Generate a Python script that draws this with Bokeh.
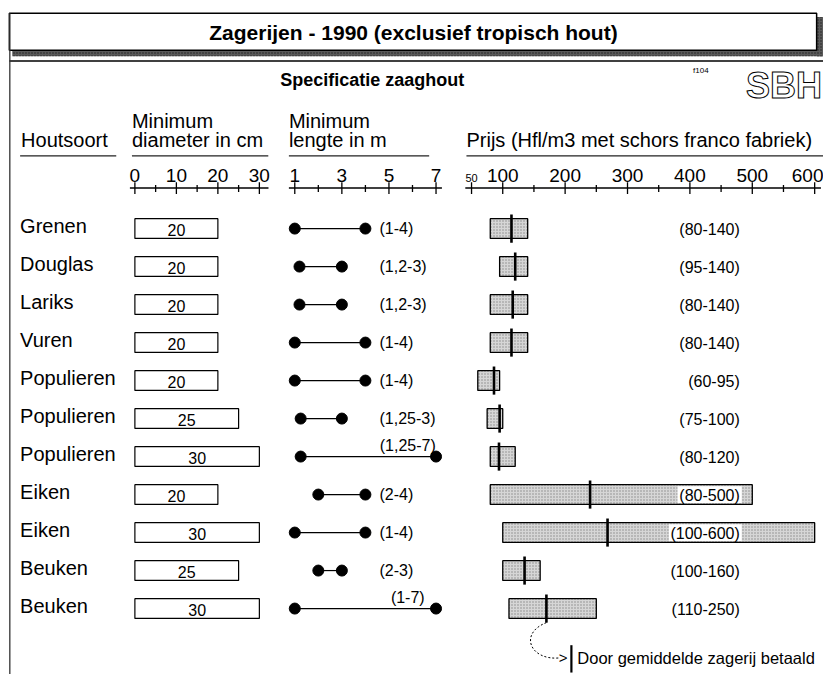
from bokeh.plotting import figure
from bokeh.models import Range1d
from bokeh.core.properties import value
from bokeh.embed import file_html
from bokeh.resources import INLINE

# ---------------- data ----------------
species = ["Grenen", "Douglas", "Lariks", "Vuren", "Populieren", "Populieren",
           "Populieren", "Eiken", "Eiken", "Beuken", "Beuken"]
diam_cm = [20, 20, 20, 20, 20, 25, 30, 20, 30, 25, 30]
len_min = [1, 1.2, 1.2, 1, 1, 1.25, 1.25, 2, 1, 2, 1]
len_max = [4, 3, 3, 4, 4, 3, 7, 4, 4, 3, 7]
len_labels = ["(1-4)", "(1,2-3)", "(1,2-3)", "(1-4)", "(1-4)", "(1,25-3)",
              "(1,25-7)", "(2-4)", "(1-4)", "(2-3)", "(1-7)"]
price_min = [80, 95, 80, 80, 60, 75, 80, 80, 100, 100, 110]
price_max = [140, 140, 140, 140, 95, 100, 120, 500, 600, 160, 250]
price_mean = [114, 120, 116, 114, 86, 95, 94, 240, 268, 135, 170]
price_labels = ["(80-140)", "(95-140)", "(80-140)", "(80-140)", "(60-95)",
                "(75-100)", "(80-120)", "(80-500)", "(100-600)", "(100-160)",
                "(110-250)"]

diam_ticks = [0, 10, 20, 30]
diam_minor = [5, 15, 25]
len_ticks = [1, 3, 5, 7]
len_minor = [2, 4, 6]
price_ticks = [100, 200, 300, 400, 500, 600]
price_minor = [150, 250, 350, 450, 550]
price_first = [50]

FONT = "Liberation Sans"
n = len(species)
rows = list(range(n))

# ---------------- figure (coordinates of the original sheet) ----------------
W, H = 823, 674
X0, X1 = 0, 839
Y0, Y1 = 0, 690

# pixel scales of the original panels
D0, DS = 137.0, 4.23      # diameter: 0 cm at x=137, 4.23 px per cm
L1, LS = 300.0, 24.0      # length: 1 m at x=300, 24 px per m
P100, PS = 512.0, 0.636   # price: 100 at x=512, 0.636 px per Hfl
R0, RS = 233.5, 38.9      # row 0 at y=233.5, 38.9 px per row

p = figure(width=W, height=H, x_range=Range1d(X0, X1), y_range=Range1d(Y1, Y0),
           output_backend="svg", toolbar_location=None, min_border=0,
           x_axis_type=None, y_axis_type=None)
p.grid.visible = False
p.outline_line_color = None
p.background_fill_color = "white"
p.border_fill_color = "white"

p.extra_x_ranges = {
    "diam": Range1d((X0 - D0) / DS, (X1 - D0) / DS),
    "len": Range1d(1 + (X0 - L1) / LS, 1 + (X1 - L1) / LS),
    "price": Range1d(100 + (X0 - P100) / PS, 100 + (X1 - P100) / PS),
}
p.extra_y_ranges = {"row": Range1d((Y1 - R0) / RS, (Y0 - R0) / RS)}

def txt(x, y, t, size, bold=False, align="left", base="middle", **kw):
    p.text(x=x, y=y, text=t, text_font=value(FONT), text_font_size=f"{size}px",
           text_font_style="bold" if bold else "normal", text_align=align,
           text_baseline=base, text_color="black", **kw)

# ---------------- frame / title ----------------
p.quad(left=[12], right=[839], top=[51], bottom=[57], fill_color="#5a5a5a",
       line_color=None, hatch_pattern="dot", hatch_color="#222222", hatch_scale=3)
p.quad(left=[832], right=[839], top=[17], bottom=[57], fill_color="#5a5a5a",
       line_color=None, hatch_pattern="dot", hatch_color="#222222", hatch_scale=3)
p.quad(left=[9], right=[832], top=[13], bottom=[51], fill_color="white",
       line_color="black", line_width=1.5)
txt([421], [33], ["Zagerijen - 1990 (exclusief tropisch hout)"], 21, bold=True,
    align="center")
p.segment(x0=[9], y0=[62], x1=[839], y1=[62], line_color="black", line_width=1.5)
p.segment(x0=[9.5], y0=[13], x1=[9.5], y1=[690], line_color="#333333", line_width=1.3)

txt([379], [81], ["Specificatie zaaghout"], 18, bold=True, align="center")
txt([706], [72], ["f104"], 8)
p.text(x=[760], y=[87], text=["SBH"], text_font=value(FONT),
       text_font_size="36px", text_font_style="bold", text_align="left",
       text_baseline="middle", text_color="white", text_outline_color="black")

# ---------------- column headers ----------------
txt([21], [143], ["Houtsoort"], 20)
txt([134], [123], ["Minimum"], 20)
txt([134], [143], ["diameter in cm"], 20)
txt([294], [123], ["Minimum"], 20)
txt([294], [143], ["lengte in m"], 20)
txt([475], [143], ["Prijs (Hfl/m3 met schors franco fabriek)"], 20)
p.segment(x0=[20, 134, 294, 475], y0=[159] * 4, x1=[118, 273, 437, 839],
          y1=[159] * 4, line_color="#222222", line_width=1.3)

# ---------------- scales ----------------
AX_Y = 192
def draw_axis(rname, lo, hi, major, minor):
    p.segment(x0=[lo], y0=[AX_Y], x1=[hi], y1=[AX_Y], x_range_name=rname,
              line_color="black", line_width=1.6)
    p.segment(x0=major, y0=[AX_Y - 6] * len(major), x1=major,
              y1=[AX_Y + 6] * len(major), x_range_name=rname,
              line_color="black", line_width=1.3)
    p.segment(x0=minor, y0=[AX_Y - 3] * len(minor), x1=minor,
              y1=[AX_Y + 4] * len(minor), x_range_name=rname,
              line_color="black", line_width=1.3)

def tick_labels(rname, vals, size, y, align="center"):
    p.text(x=vals, y=[y] * len(vals), text=[str(v) for v in vals],
           x_range_name=rname, text_font=value(FONT), text_font_size=f"{size}px",
           text_align=align, text_baseline="middle")

draw_axis("diam", -1.2, 32.2, diam_ticks, diam_minor)
tick_labels("diam", diam_ticks, 19, 179)
draw_axis("len", 0.75, 7.25, len_ticks, len_minor)
tick_labels("len", len_ticks, 19, 179)
draw_axis("price", 40, 610, price_first + price_ticks, price_minor)
tick_labels("price", price_ticks[:-1], 19, 179)
# last label sits against the right edge of the sheet
p.text(x=[price_ticks[-1] + 9 / PS], y=[179], text=[str(price_ticks[-1])],
       x_range_name="price", text_font=value(FONT), text_font_size="19px",
       text_align="right", text_baseline="middle")
tick_labels("price", price_first, 11, 182)

# ---------------- rows ----------------
txt([20] * n, [r - 0.07 for r in rows], species, 20, y_range_name="row")

# diameter boxes
p.quad(left=[0] * n, right=diam_cm, top=[r - 0.26 for r in rows],
       bottom=[r + 0.26 for r in rows], x_range_name="diam", y_range_name="row",
       fill_color="white", line_color="black", line_width=1.2)
p.text(x=[d / 2 for d in diam_cm], y=[r + 0.03 for r in rows],
       text=[str(d) for d in diam_cm], x_range_name="diam", y_range_name="row",
       text_font=value(FONT), text_font_size="16px", text_align="center",
       text_baseline="middle")

# length ranges
p.segment(x0=len_min, y0=rows, x1=len_max, y1=rows, x_range_name="len",
          y_range_name="row", line_color="black", line_width=1.2)
p.scatter(x=len_min + len_max, y=rows + rows, size=11, color="black",
          x_range_name="len", y_range_name="row")
side = [i for i in rows if len_max[i] < 7]
over = [i for i in rows if len_max[i] >= 7]
p.text(x=[4.6] * len(side), y=[rows[i] for i in side],
       text=[len_labels[i] for i in side], x_range_name="len", y_range_name="row",
       text_font=value(FONT), text_font_size="16px", text_align="left",
       text_baseline="middle")
p.text(x=[5.8] * len(over), y=[rows[i] - 0.3 for i in over],
       text=[len_labels[i] for i in over], x_range_name="len", y_range_name="row",
       text_font=value(FONT), text_font_size="16px", text_align="center",
       text_baseline="middle")

# price ranges
p.quad(left=price_min, right=price_max, top=[r - 0.26 for r in rows],
       bottom=[r + 0.26 for r in rows], x_range_name="price", y_range_name="row",
       fill_color="#d6d6d6", line_color="black", line_width=1.3,
       hatch_pattern="dot", hatch_color="#8a8a8a", hatch_scale=3, hatch_weight=1)

LAB_X = 480  # right edge of price labels (price units)
cw = {"(": 0.333, ")": 0.333, "-": 0.333}
def width_px(s, size=16):
    return sum(cw.get(c, 0.556) for c in s) * size

boxed = [i for i in rows if price_max[i] > LAB_X - width_px(price_labels[i]) / PS]
p.quad(left=[LAB_X - (width_px(price_labels[i]) + 3) / PS for i in boxed],
       right=[LAB_X + 2 / PS for i in boxed],
       top=[rows[i] - 0.22 for i in boxed], bottom=[rows[i] + 0.22 for i in boxed],
       x_range_name="price", y_range_name="row", fill_color="white",
       line_color=None)
p.segment(x0=price_mean, y0=[r - 0.37 for r in rows], x1=price_mean,
          y1=[r + 0.37 for r in rows], x_range_name="price", y_range_name="row",
          line_color="black", line_width=2.6)
p.text(x=[LAB_X] * n, y=[r + 0.02 for r in rows], text=price_labels,
       x_range_name="price", y_range_name="row", text_font=value(FONT),
       text_font_size="16px", text_align="right", text_baseline="middle")

# ---------------- legend note ----------------
mx = P100 + (price_mean[-1] - 100) * PS
my = R0 + (n - 1 + 0.37) * RS
p.bezier(x0=[mx], y0=[my], x1=[570], y1=[673], cx0=[528], cy0=[648],
         cx1=[540], cy1=[676], line_color="black", line_width=1, line_dash="2 2")
txt([569], [673], [">"], 15)
p.segment(x0=[582], y0=[660], x1=[582], y1=[688], line_color="black", line_width=2.2)
txt([588], [673], ["Door gemiddelde zagerij betaald"], 16.5)

open("out.html", "w").write(file_html(p, INLINE))
